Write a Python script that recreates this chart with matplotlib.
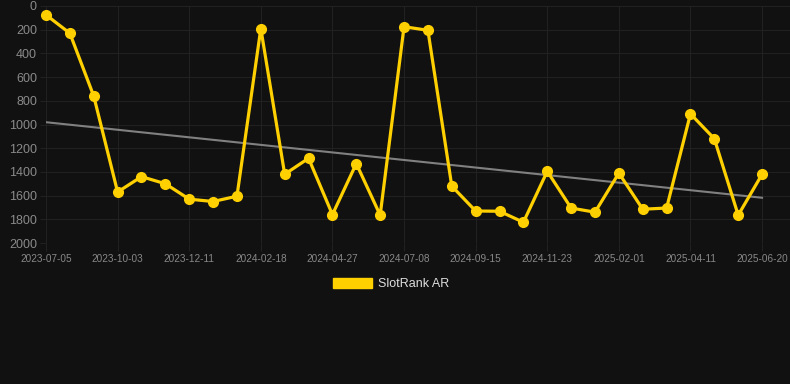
import matplotlib
matplotlib.use("Agg")
import matplotlib.pyplot as plt
import matplotlib.patches as mpatches
import numpy as np

plt.rcParams['font.family'] = ['Liberation Sans', 'DejaVu Sans']

tick_dates = ["2023-07-05", "2023-10-03", "2023-12-11", "2024-02-18", "2024-04-27",
              "2024-07-08", "2024-09-15", "2024-11-23", "2025-02-01", "2025-04-11",
              "2025-06-20"]
ranks = [75, 230, 760, 1570, 1440, 1500, 1630, 1650, 1605, 190,
         1420, 1285, 1760, 1330, 1765, 175, 205, 1520, 1730, 1732,
         1825, 1395, 1705, 1740, 1410, 1715, 1705, 910, 1120, 1765,
         1420]
series_name = "SlotRank AR"

bg = "#111111"
grid_c = "#212121"
yellow = "#FFD000"

fig = plt.figure(figsize=(7.9, 3.84), dpi=100, facecolor=bg)
ax = fig.add_axes([46/790, 141/384, 744/790, 237/384], facecolor=bg)

x = np.arange(len(ranks))
y = np.array(ranks, dtype=float)

# trend line (linear regression)
coef = np.polyfit(x, y, 1)
ax.plot(x, np.polyval(coef, x), color="#808080", lw=1.5, zorder=2)

ax.plot(x, y, color=yellow, lw=2.3, marker="o", markersize=7, zorder=3,
        solid_joinstyle="miter", clip_on=False)

ax.set_ylim(2000, 0)
ax.set_xlim(0, len(ranks) - 1 + 1.17)
ax.set_yticks(np.arange(0, 2001, 200))
ax.set_xticks(x[::3])
ax.set_xticklabels(tick_dates)

ax.grid(True, color=grid_c, lw=0.8)
for s in ax.spines.values():
    s.set_visible(False)
ax.tick_params(axis="y", colors=grid_c, labelcolor="#8a8a8a", labelsize=9,
               length=4.5, width=0.8, pad=2)
ax.tick_params(axis="x", colors=grid_c, labelcolor="#888888", labelsize=7.2,
               length=6, width=0.8, pad=2)

handle = mpatches.Patch(color=yellow, label=series_name)
fig.legend(handles=[handle], loc="center", bbox_to_anchor=(391/790, 1 - 284/384),
           frameon=False, labelcolor="#dddddd", fontsize=9,
           handlelength=3.1, handleheight=0.9, handletextpad=0.5)

fig.savefig("out.png", dpi=100, facecolor=bg)
